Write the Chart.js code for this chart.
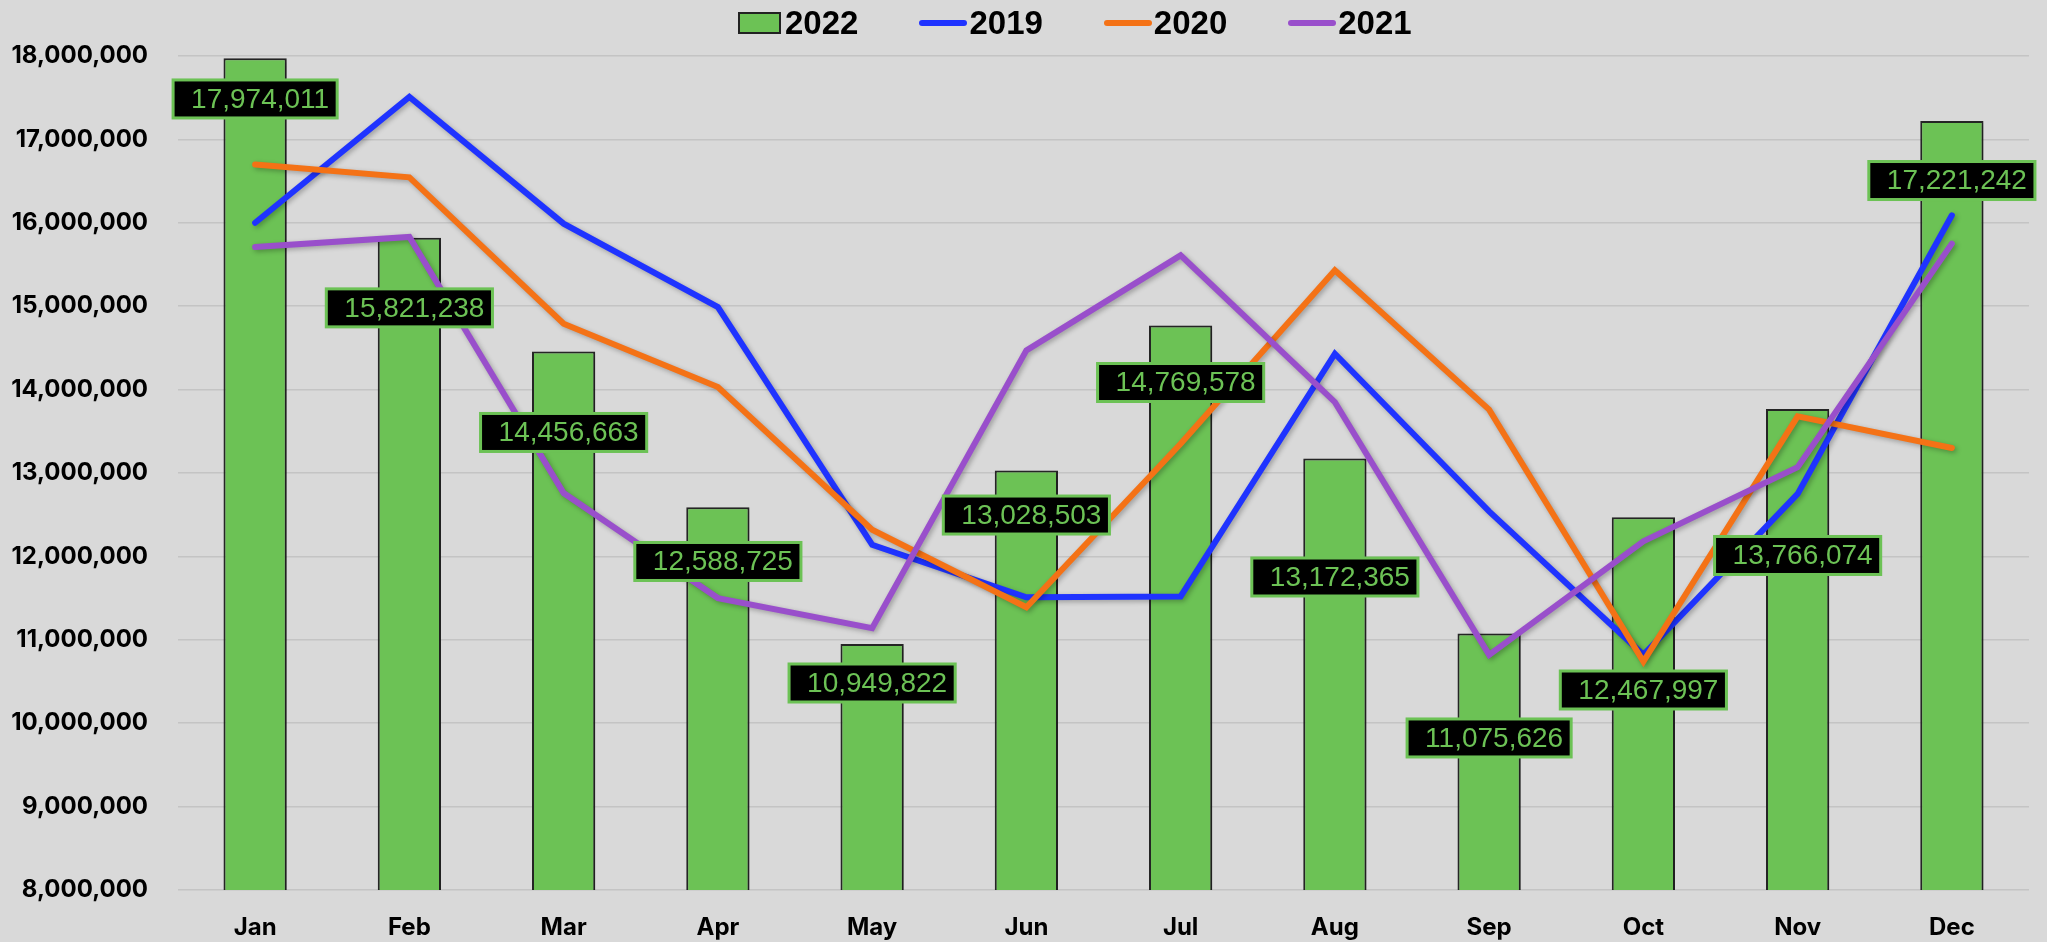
<!DOCTYPE html>
<html>
<head>
<meta charset="utf-8">
<title>Monthly totals 2019-2022</title>
<script src="https://cdn.jsdelivr.net/npm/chart.js@4.4.0/dist/chart.umd.min.js"></script>
<style>
  html, body { margin: 0; padding: 0; background: #d9d9d9; }
  #wrap { position: relative; width: 2047px; height: 942px; }
  #legend {
    position: absolute; top: 3px; left: 738px;
    display: flex; align-items: center; gap: 61px;
    font-family: "Liberation Sans", Arial, sans-serif;
    font-weight: bold; font-size: 33px; line-height: 40px; color: #000;
  }
  #legend .item { display: flex; align-items: center; }
  #legend .box { width: 39px; height: 18px; border: 2px solid #222; margin-right: 4px; }
  #legend .line { width: 48px; height: 6px; border-radius: 3px; margin-right: 2px; }
</style>
</head>
<body>
<div id="wrap">
  <canvas id="chart" width="2047" height="942"></canvas>
  <div id="legend"></div>
</div>
<script>
// --- data ---
const months = ['Jan', 'Feb', 'Mar', 'Apr', 'May', 'Jun', 'Jul', 'Aug', 'Sep', 'Oct', 'Nov', 'Dec'];

const sales2022 = [17974011, 15821238, 14456663, 12588725, 10949822, 13028503,
                   14769578, 13172365, 11075626, 12467997, 13766074, 17221242];

const sales2019 = [16000000, 17510000, 15990000, 14990000, 12140000, 11510000,
                   11520000, 14430000, 12540000, 10820000, 12750000, 16090000];

const sales2020 = [16700000, 16545000, 14790000, 14030000, 12320000, 11390000,
                   13350000, 15430000, 13760000, 10740000, 13680000, 13300000];

const sales2021 = [15710000, 15830000, 12760000, 11500000, 11140000, 14470000,
                   15610000, 13850000, 10820000, 12180000, 13070000, 15750000];

const yMin = 8000000;
const yMax = 18000000;
const yStep = 1000000;

// where each 2022 value box sits, in axis units (boxes were moved by hand in the original)
const labelAnchors = [17485000, 14980000, 13486000, 11939000, 10482000, 12496000,
                      14085000, 11753000, 9823000, 10398000, 12011000, 16507000];

// --- theme ---
const colors = {
  bar: '#6cc255',
  barEdge: '#262626',
  blue: '#1f33ff',
  orange: '#f47216',
  purple: '#994fcb',
  grid: '#c4c4c4',
  text: '#000000'
};
const tickFont = { family: 'Inter, "Open Sans", sans-serif', size: 24, weight: 'bold' };

// soft drop shadow under bars and lines
const shadowPlugin = {
  id: 'shadowPlugin',
  beforeDatasetDraw(chart) {
    const c = chart.ctx;
    c.save();
    c.shadowColor = 'rgba(0, 0, 0, 0.28)';
    c.shadowBlur = 5;
    c.shadowOffsetX = 2;
    c.shadowOffsetY = 2;
  },
  afterDatasetDraw(chart) {
    chart.ctx.restore();
  }
};

// black value boxes for the 2022 bars
const barLabels = {
  id: 'barLabels',
  afterDatasetsDraw(chart) {
    const meta = chart.getDatasetMeta(0);
    const yScale = chart.scales.y;
    const ctx = chart.ctx;
    ctx.save();
    ctx.font = '28px "Liberation Sans", Arial, sans-serif';
    ctx.textAlign = 'center';
    ctx.textBaseline = 'middle';
    meta.data.forEach((bar, i) => {
      const text = sales2022[i].toLocaleString('en-US');
      const w = ctx.measureText(text).width + 26;
      const h = 38;
      const cx = bar.x;
      const cy = yScale.getPixelForValue(labelAnchors[i]);
      ctx.fillStyle = '#000';
      ctx.fillRect(cx - w / 2, cy - h / 2, w, h);
      ctx.lineWidth = 3;
      ctx.strokeStyle = colors.bar;
      ctx.strokeRect(cx - w / 2, cy - h / 2, w, h);
      ctx.fillStyle = colors.bar;
      ctx.fillText(text, cx + 5, cy + 1);
    });
    ctx.restore();
  }
};

function lineSet(label, data, color, order) {
  return {
    type: 'line',
    label: label,
    data: data,
    borderColor: color,
    backgroundColor: color,
    borderWidth: 6,
    borderJoinStyle: 'miter',
    borderCapStyle: 'round',
    tension: 0,
    pointRadius: 0,
    fill: false,
    order: order
  };
}

const datasets = [
  {
    type: 'bar',
    label: '2022',
    data: sales2022,
    backgroundColor: colors.bar,
    borderColor: colors.barEdge,
    borderWidth: 2,
    borderSkipped: false,
    categoryPercentage: 1,
    barPercentage: 0.41,
    order: 10
  },
  lineSet('2019', sales2019, colors.blue, 3),
  lineSet('2020', sales2020, colors.orange, 2),
  lineSet('2021', sales2021, colors.purple, 1)
];

new Chart(document.getElementById('chart'), {
  type: 'bar',
  data: { labels: months, datasets: datasets },
  plugins: [shadowPlugin, barLabels],
  options: {
    responsive: false,
    animation: false,
    layout: { padding: { top: 56, right: 18, left: 0, bottom: 0 } },
    plugins: {
      legend: { display: false },
      tooltip: { enabled: false }
    },
    scales: {
      x: {
        offset: true,
        grid: { display: false, drawTicks: false },
        border: { display: false },
        ticks: { color: colors.text, font: tickFont, padding: 23 },
        afterFit(scale) { scale.height = 52; }
      },
      y: {
        min: yMin,
        max: yMax,
        grid: { color: colors.grid, lineWidth: 1.5, drawTicks: false },
        border: { display: false },
        ticks: {
          stepSize: yStep,
          padding: 30,
          color: colors.text,
          font: tickFont,
          callback: v => v.toLocaleString('en-US')
        },
        afterFit(scale) { scale.width = 178; }
      }
    }
  }
});

// legend built from the same dataset list
const legend = document.getElementById('legend');
datasets.forEach(ds => {
  const item = document.createElement('div');
  item.className = 'item';
  const swatch = document.createElement('span');
  if (ds.type === 'bar') {
    swatch.className = 'box';
    swatch.style.background = ds.backgroundColor;
  } else {
    swatch.className = 'line';
    swatch.style.background = ds.borderColor;
  }
  const txt = document.createElement('span');
  txt.textContent = ds.label;
  item.appendChild(swatch);
  item.appendChild(txt);
  legend.appendChild(item);
});
</script>
</body>
</html>
